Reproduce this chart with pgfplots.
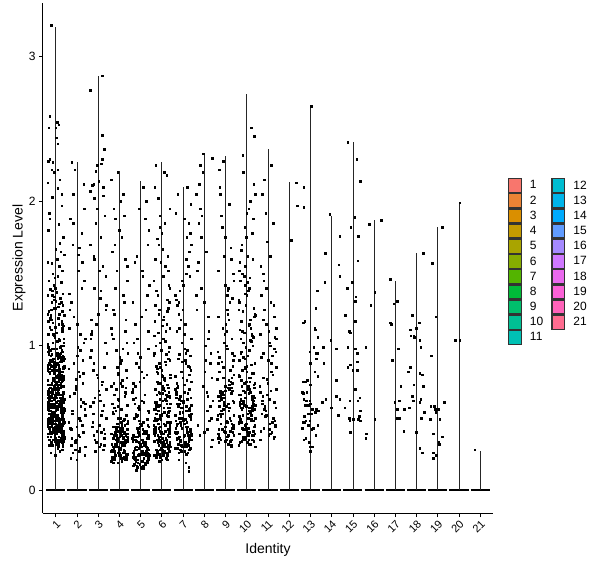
\documentclass[border=0pt]{standalone}
\usepackage{pgfplots}
\pgfplotsset{compat=1.18}
\usepackage{fontspec}
\setmainfont{Liberation Sans}
\definecolor{c1}{HTML}{F8766D}
\definecolor{c2}{HTML}{EB8335}
\definecolor{c3}{HTML}{DA8F00}
\definecolor{c4}{HTML}{C49A00}
\definecolor{c5}{HTML}{A9A400}
\definecolor{c6}{HTML}{86AC00}
\definecolor{c7}{HTML}{53B400}
\definecolor{c8}{HTML}{00BA38}
\definecolor{c9}{HTML}{00BE6C}
\definecolor{c10}{HTML}{00C094}
\definecolor{c11}{HTML}{00C1B4}
\definecolor{c12}{HTML}{00BDD1}
\definecolor{c13}{HTML}{00B5EB}
\definecolor{c14}{HTML}{00ABFD}
\definecolor{c15}{HTML}{619CFF}
\definecolor{c16}{HTML}{A58AFF}
\definecolor{c17}{HTML}{CF78FF}
\definecolor{c18}{HTML}{EA69EE}
\definecolor{c19}{HTML}{FB61D7}
\definecolor{c20}{HTML}{FF62B9}
\definecolor{c21}{HTML}{FF6C90}
\begin{document}
\begin{tikzpicture}
\path[use as bounding box] (-43bp,-55bp) rectangle (557bp,513bp);
\begin{axis}[
  scale only axis, width=450bp, height=510bp,
  xmin=0.4, xmax=21.6, ymin=-0.159, ymax=3.373,
  axis x line*=bottom, axis y line*=left,
  axis line style={-, line width=1bp, black},
  tick align=outside, major tick length=4bp,
  every tick/.style={black, line width=0.8bp},
  xtick={1,2,3,4,5,6,7,8,9,10,11,12,13,14,15,16,17,18,19,20,21},
  xticklabels={1,2,3,4,5,6,7,8,9,10,11,12,13,14,15,16,17,18,19,20,21},
  ytick={0,1,2,3}, yticklabels={0,1,2,3},
  /pgf/number format/assume math mode=true,
  x tick label style={rotate=45, anchor=north east, inner sep=1.5bp, font=\fontsize{11bp}{12bp}\selectfont},
  y tick label style={font=\fontsize{12bp}{14bp}\selectfont},
  xlabel={Identity}, ylabel={Expression Level},
  label style={font=\fontsize{14bp}{16bp}\selectfont},
  xlabel style={at={(axis description cs:0.5,0)}, anchor=base, yshift=-40bp},
  ylabel style={at={(axis description cs:0,0.5)}, anchor=center, yshift=24bp},
  unbounded coords=jump,
  legend columns=2,
  legend cell align=left,
  legend style={at={(axis description cs:1.0333,0.6569)}, anchor=north west,
    draw=none, fill=none, inner sep=0pt, outer sep=0pt, row sep=0pt, column sep=8bp,
    font=\fontsize{12bp}{14bp}\selectfont, nodes={inner sep=0pt}},
  legend image code/.code={\draw[#1, line width=1.3bp] (0.65bp,-6.95bp) rectangle (13.35bp,6.95bp);},
]
% violins (flat part at zero and thin upper tail)
\addplot[black, line width=2bp, forget plot] coordinates {(0.55,0)(1.45,0)(1.5,nan)(1.55,0)(2.45,0)(2.5,nan)(2.55,0)(3.45,0)(3.5,nan)(3.55,0)(4.45,0)(4.5,nan)(4.55,0)(5.45,0)(5.5,nan)(5.55,0)(6.45,0)(6.5,nan)(6.55,0)(7.45,0)(7.5,nan)(7.55,0)(8.45,0)(8.5,nan)(8.55,0)(9.45,0)(9.5,nan)(9.55,0)(10.45,0)(10.5,nan)(10.55,0)(11.45,0)(11.5,nan)(11.55,0)(12.45,0)(12.5,nan)(12.55,0)(13.45,0)(13.5,nan)(13.55,0)(14.45,0)(14.5,nan)(14.55,0)(15.45,0)(15.5,nan)(15.55,0)(16.45,0)(16.5,nan)(16.55,0)(17.45,0)(17.5,nan)(17.55,0)(18.45,0)(18.5,nan)(18.55,0)(19.45,0)(19.5,nan)(19.55,0)(20.45,0)(20.5,nan)(20.55,0)(21.45,0)};
\addplot[black!85, line width=0.75bp, forget plot] coordinates {(1,0)(1,3.21)(1,nan)(2,0)(2,2.27)(2,nan)(3,0)(3,2.87)(3,nan)(4,0)(4,2.21)(4,nan)(5,0)(5,2.14)(5,nan)(6,0)(6,2.27)(6,nan)(7,0)(7,2.10)(7,nan)(8,0)(8,2.33)(8,nan)(9,0)(9,2.31)(9,nan)(10,0)(10,2.74)(10,nan)(11,0)(11,2.36)(11,nan)(12,0)(12,2.13)(12,nan)(13,0)(13,2.66)(13,nan)(14,0)(14,1.90)(14,nan)(15,0)(15,2.41)(15,nan)(16,0)(16,1.87)(16,nan)(17,0)(17,1.45)(17,nan)(18,0)(18,1.64)(18,nan)(19,0)(19,1.82)(19,nan)(20,0)(20,1.99)(20,nan)(21,0)(21,0.27)};
% jittered cells
\addplot[only marks, mark=square*, mark size=0.8bp, mark options={fill=black, draw=black, line width=0.2bp}, forget plot] coordinates {
(0.69,.31)(1.17,.44)(0.95,.38)(1.36,.47)(0.78,.33)(1.08,.41)(1.29,.36)(0.62,.49)(1.12,.35)(0.86,.42)(1.33,.30)(0.73,.46)(1.02,.39)(1.21,.34)(0.91,.48)(1.39,.37)(0.66,.43)(1.14,.32)(0.81,.45)(1.26,.40)(0.98,.36)(1.31,.33)(0.75,.47)(1.05,.42)(1.37,.38)(0.84,.49)(1.10,.31)(0.64,.44)(1.23,.35)(0.93,.41)(1.34,.46)(0.71,.39)(1.00,.34)(1.18,.48)(0.88,.43)(1.28,.37)(0.61,.45)(1.06,.32)(0.79,.40)(1.15,.47)
(1.12,.58)(0.63,.66)(1.25,.49)(0.92,.72)(1.35,.61)(0.76,.55)(1.04,.78)(0.83,.64)(1.30,.52)(0.67,.70)(1.19,.59)(0.97,.75)(1.38,.47)(0.72,.68)(1.09,.62)(0.80,.57)(1.27,.80)(0.89,.53)(1.32,.65)(0.65,.73)(1.16,.60)(0.99,.50)(1.24,.77)(0.70,.63)(1.07,.56)(0.85,.69)(1.36,.54)(0.74,.71)(1.13,.67)(0.94,.48)(1.22,.74)(0.61,.59)(1.03,.79)(0.82,.51)(1.29,.64)(0.90,.76)(1.37,.57)(0.77,.62)(1.11,.70)(0.68,.55)
(1.33,.82)(0.73,.60)(1.02,.88)(1.21,.71)(0.91,.54)(1.39,.85)(0.66,.66)(1.14,.79)(0.81,.58)(1.26,.90)(0.98,.73)(1.31,.63)(0.75,.86)(1.05,.52)(1.37,.77)(0.84,.69)(1.10,.83)(0.64,.61)(1.23,.74)(0.93,.89)(1.34,.56)(0.71,.81)(1.00,.67)(1.18,.84)(0.88,.76)(1.28,.62)(0.61,.87)(1.06,.70)(0.79,.53)(1.15,.80)(0.69,.65)(1.17,.78)(0.95,.59)(1.36,.72)(0.78,.86)(1.08,.68)(1.29,.57)(0.62,.83)(1.12,.75)(0.86,.64)
(1.16,.42)(0.99,.57)(1.24,.36)(0.70,.63)(1.07,.48)(0.85,.69)(1.36,.39)(0.74,.55)(1.13,.66)(0.94,.44)(1.22,.61)(0.61,.37)(1.03,.52)(0.82,.68)(1.29,.46)(0.90,.58)(1.37,.40)(0.77,.65)(1.11,.50)(0.68,.35)(1.12,.62)(0.63,.47)(1.25,.54)(0.92,.70)(1.35,.41)(0.76,.59)(1.04,.45)(0.83,.67)(1.30,.38)(0.67,.53)(1.19,.64)(0.97,.43)(1.38,.56)(0.72,.49)(1.09,.66)(0.80,.39)(1.27,.60)(0.89,.51)(1.32,.45)(0.65,.68)
(1.08,.93)(1.29,1.12)(0.62,.85)(1.12,1.27)(0.86,1.02)(1.33,.96)(0.73,1.19)(1.02,.88)(1.21,1.33)(0.91,1.07)(1.39,.91)(0.66,1.24)(1.14,1.15)(0.81,.98)(1.26,1.30)(0.98,.83)(1.31,1.10)(0.75,1.21)(1.05,.95)(1.37,1.05)(0.84,1.35)(1.10,.87)(0.64,1.17)(1.23,1.00)(0.93,1.26)(1.34,.92)(0.71,1.13)(1.00,1.31)(1.18,.89)(0.88,1.08)(1.28,.97)(0.61,1.22)(1.06,1.03)(0.79,1.18)(1.15,.94)
(0.83,1.38)(1.30,1.52)(0.67,1.45)(1.19,1.71)(0.97,1.40)(1.38,1.63)(0.72,1.88)(1.09,1.48)(0.80,1.57)(1.27,1.97)(0.89,1.42)(1.32,1.36)(0.65,1.80)(1.16,1.55)(0.99,1.67)(1.24,1.44)(0.70,1.92)(1.07,1.60)(0.85,1.50)(1.36,1.75)(0.74,1.39)(1.13,1.84)(0.94,1.47)(1.22,1.65)(0.61,1.58)
(0.77,3.22)(0.72,2.59)(0.67,2.51)(0.99,2.51)(1.06,2.55)(1.14,2.53)(1.03,2.44)(1.08,2.40)(0.64,2.28)(0.72,2.29)(0.85,2.27)(0.80,2.22)(0.92,2.20)(1.09,2.22)(1.19,2.15)(0.61,2.13)(1.08,2.09)(1.27,2.05)(0.83,2.03)
(0.97,.24)(1.18,.27)(0.75,.26)(1.30,.28)
(0.97,.52)(1.27,.38)(0.64,.61)(1.14,.45)(0.80,.70)(1.33,.33)(0.89,.57)(1.05,.48)(0.71,.42)(1.22,.66)(0.84,.54)(1.38,.36)(0.93,.63)(1.30,.50)(0.76,.44)(1.09,.72)(0.67,.39)(1.19,.58)(0.99,.46)(1.35,.68)(0.86,.35)(1.25,.55)(0.62,.47)(1.03,.64)(0.74,.40)(1.16,.60)(0.91,.51)(1.31,.37)(0.81,.69)(1.11,.43)(0.65,.56)(1.24,.62)(0.96,.34)(1.37,.49)(0.78,.65)(1.07,.41)(0.70,.53)(1.20,.59)(0.87,.46)(1.34,.67)
(0.86,.78)(1.25,.92)(0.62,.85)(1.03,.74)(0.74,.97)(1.16,.81)(0.91,.88)(1.31,.76)(0.81,.94)(1.11,.83)(0.65,.99)(1.24,.79)(0.96,.86)(1.37,.90)(0.78,.73)(1.07,.95)(0.70,.82)(1.20,.77)(0.87,.91)(1.34,.84)(0.97,.87)(1.27,.75)(0.64,.96)(1.14,.80)(0.80,.89)(1.33,.93)(0.89,.78)(1.05,.98)(0.71,.84)(1.22,.72)(0.84,.90)(1.38,.86)(0.93,.81)(1.30,.76)(0.76,.93)(1.09,.88)(0.67,.97)(1.19,.83)(0.99,.79)(1.35,.85)
(0.84,.31)(1.38,.55)(0.93,.43)(1.30,.62)(0.76,.37)(1.09,.29)(0.67,.50)(1.19,.41)(0.99,.58)(1.35,.34)(0.86,.47)(1.25,.63)(0.62,.39)(1.03,.32)(0.74,.53)(1.16,.45)(0.91,.60)(1.31,.36)(0.81,.48)(1.11,.30)(0.65,.57)(1.24,.42)(0.96,.65)(1.37,.38)(0.78,.51)(1.07,.33)(0.70,.46)(1.20,.61)(0.87,.40)(1.34,.54)(0.97,.35)(1.27,.44)(0.64,.59)(1.14,.37)(0.80,.52)(1.33,.31)(0.89,.64)(1.05,.42)(0.71,.49)(1.22,.56)
(0.62,1.01)(1.12,.92)(0.86,1.16)(1.33,1.28)(0.73,.87)(1.02,1.09)(1.21,.99)(0.91,1.34)(1.39,1.21)(0.66,.94)(1.14,1.05)(0.81,1.30)(1.26,.89)(0.98,1.13)(1.31,1.24)(0.75,.97)(1.05,1.37)(1.37,1.02)(0.84,.86)(1.10,1.19)(0.64,1.08)(1.23,.95)(0.93,1.32)(1.34,1.14)(0.71,.90)(1.00,1.26)(1.18,1.04)(0.88,.98)(1.28,1.17)(0.61,1.35)(1.06,.93)(0.79,1.11)(1.15,1.22)(0.69,.88)(1.17,1.29)(0.95,1.06)(1.36,1.00)(0.78,1.25)(1.08,.91)(1.29,1.15)
(1.38,.63)(0.72,.81)(1.09,.52)(0.80,.74)(1.27,.58)(0.89,.84)(1.32,.47)(0.65,.69)(1.16,.77)(0.99,.55)(1.24,.82)(0.70,.49)(1.07,.71)(0.85,.60)(1.36,.79)(0.74,.53)(1.13,.85)(0.94,.66)(1.22,.45)(0.61,.76)(1.03,.61)(0.82,.83)(1.29,.50)(0.90,.72)(1.37,.67)(0.77,.57)(1.11,.80)(0.68,.48)(1.12,.73)(0.63,.64)
(2.36,.24)(1.78,.55)(2.08,.38)(2.29,.81)(1.62,1.12)(2.12,.29)(1.86,.67)(2.33,1.45)(1.73,.42)(2.02,.93)(2.21,1.78)(1.91,.33)(2.39,.60)(1.66,1.25)(2.14,.48)(1.81,2.05)(2.26,.74)(1.98,.21)(2.31,1.02)(1.75,.36)(2.05,1.63)(2.37,.52)(1.84,.88)(2.10,.27)(1.64,1.36)(2.23,.45)(1.93,.70)(2.34,1.95)(1.71,.31)(2.00,1.15)(2.18,.58)(1.88,2.22)(2.28,.40)(1.61,.84)(2.06,1.52)(1.79,.26)(2.15,.97)(1.69,1.88)(2.17,.63)(1.95,.35)
(1.97,.77)(2.38,.30)(1.72,1.30)(2.09,.50)(1.80,1.70)(2.27,.90)(1.89,.34)(2.32,2.12)(1.65,.65)(2.16,1.08)(1.99,.44)(2.24,1.58)(1.70,.22)(2.07,.82)(1.85,1.20)(2.36,.56)(1.74,2.27)(2.13,.37)(1.94,.72)(2.22,1.40)(1.61,.47)(2.03,.99)(1.82,1.85)(2.29,.61)(1.90,.28)(2.37,1.05)(1.77,.53)(2.11,1.68)(1.68,.43)(2.12,.79)
(3.18,2.87)(2.62,2.77)(3.18,2.46)(3.29,2.36)(3.18,2.29)(3.15,2.26)(2.95,2.25)(2.87,2.21)(3.01,2.14)(2.78,2.12)(2.71,2.11)(2.61,2.07)(3.24,2.10)(3.24,2.04)(2.81,2.02)
(2.84,.35)(3.10,.62)(2.64,1.05)(3.23,.28)(2.93,.80)(3.34,1.48)(2.71,.44)(3.00,1.22)(3.18,.55)(2.88,1.85)(3.28,.31)(2.61,.92)(3.06,.66)(2.79,1.62)(3.15,.40)(2.69,1.10)(3.17,.73)(2.95,1.95)(3.36,.50)(2.78,.38)(3.08,1.33)(3.29,.85)(2.62,.58)(3.12,1.75)(2.86,.27)(3.33,1.02)(2.73,.47)(3.02,.69)(3.21,1.55)(2.91,.33)(3.39,.95)(2.66,1.18)(3.14,.52)(2.81,1.40)(3.26,.42)(2.98,.78)(3.31,1.90)(2.75,.61)(3.05,.30)(3.37,1.28)
(2.78,.88)(3.03,.45)(2.82,1.60)(3.29,.36)(2.90,1.15)(3.37,.70)(2.77,.53)(3.11,1.38)(2.68,.97)(3.12,.32)(2.63,1.70)(3.25,.59)(2.92,.41)(3.35,1.25)(2.76,.83)(3.04,1.52)(2.83,.64)(3.30,.39)(2.67,1.08)(3.19,.75)
(4.02,.24)(4.21,.31)(3.91,.19)(4.39,.36)(3.66,.28)(4.14,.22)(3.81,.40)(4.26,.33)(3.98,.26)(4.31,.21)(3.75,.38)(4.05,.29)(4.37,.25)(3.84,.35)(4.10,.20)(3.64,.32)(4.23,.27)(3.93,.41)(4.34,.23)(3.71,.30)(4.00,.37)(4.18,.26)(3.88,.34)(4.28,.21)(3.61,.39)(4.06,.28)(3.79,.24)(4.15,.33)(3.69,.19)(4.17,.36)(3.95,.30)(4.36,.42)(3.78,.25)(4.08,.22)(4.29,.35)(3.62,.27)(4.12,.31)(3.86,.38)(4.33,.23)(3.73,.29)
(4.25,.45)(3.92,.58)(4.35,.37)(3.76,.66)(4.04,.50)(3.83,.42)(4.30,.71)(3.67,.54)(4.19,.39)(3.97,.62)(4.38,.47)(3.72,.74)(4.09,.56)(3.80,.44)(4.27,.68)(3.89,.36)(4.32,.52)(3.65,.60)(4.16,.48)(3.99,.41)(4.24,.65)(3.70,.53)(4.07,.38)(3.85,.70)(4.36,.46)(3.74,.57)(4.13,.43)(3.94,.63)(4.22,.49)(3.61,.72)(4.03,.40)(3.82,.55)(4.29,.67)(3.90,.44)(4.37,.59)
(4.34,.78)(3.71,1.05)(4.00,.92)(4.18,1.35)(3.88,.85)(4.28,1.60)(3.61,1.12)(4.06,.74)(3.79,1.88)(4.15,.98)(3.69,1.25)(4.17,2.05)(3.95,.81)(4.36,1.45)(3.78,1.70)(4.08,.90)(4.29,1.18)(3.62,2.15)(4.12,.76)(3.86,1.52)(4.33,1.02)(3.73,1.95)(4.02,.88)(4.21,1.30)(3.91,2.20)(4.39,.95)(3.66,1.65)(4.14,.72)(3.81,1.40)(4.26,1.10)(3.98,1.80)(4.31,.83)(3.75,1.22)(4.05,2.00)(4.37,1.55)(3.84,.97)(4.10,1.75)(3.64,1.08)(4.23,1.90)(3.93,.80)
(3.97,.27)(4.27,.34)(3.64,.22)(4.14,.41)(3.80,.30)(4.33,.25)(3.89,.46)(4.05,.29)(3.71,.36)(4.22,.23)(3.84,.32)(4.38,.48)(3.93,.26)(4.30,.38)(3.76,.21)(4.09,.33)(3.67,.44)(4.19,.28)(3.99,.24)(4.35,.39)(3.86,.31)(4.25,.35)(3.62,.20)(4.03,.43)(3.74,.27)(4.16,.37)(3.91,.50)(4.31,.25)(3.81,.32)(4.11,.45)(3.65,.23)(4.24,.40)(3.96,.29)(4.37,.34)(3.78,.22)(4.07,.47)(3.70,.30)(4.20,.26)(3.87,.36)(4.34,.42)
(5.14,.22)(4.81,.17)(5.26,.30)(4.98,.25)(5.31,.19)(4.75,.35)(5.05,.15)(5.37,.28)(4.84,.21)(5.10,.33)(4.64,.26)(5.23,.18)(4.93,.38)(5.34,.23)(4.71,.29)(5.00,.16)(5.18,.32)(4.88,.24)(5.28,.20)(4.61,.36)(5.06,.27)(4.79,.14)(5.15,.31)(4.69,.22)(5.17,.39)(4.95,.18)(5.36,.25)(4.78,.34)(5.08,.20)(5.29,.28)(4.62,.23)(5.12,.17)(4.86,.37)(5.33,.26)(4.73,.21)(5.02,.30)(5.21,.19)(4.91,.33)(5.39,.24)(4.66,.27)
(4.85,.42)(5.36,.55)(4.74,.37)(5.13,.61)(4.94,.48)(5.22,.40)(4.61,.68)(5.03,.45)(4.82,.52)(5.29,.36)(4.90,.58)(5.37,.44)(4.77,.64)(5.11,.39)(4.68,.50)(5.12,.47)(4.63,.70)(5.25,.41)(4.92,.56)(5.35,.38)(4.76,.53)(5.04,.62)(4.83,.43)(5.30,.49)(4.67,.35)(5.19,.66)(4.97,.46)(5.38,.54)(4.72,.60)(5.09,.42)(4.80,.51)(5.27,.39)(4.89,.57)(5.32,.45)(4.65,.63)
(4.95,.75)(5.36,1.10)(4.78,.88)(5.08,1.52)(5.29,.80)(4.62,1.30)(5.12,2.10)(4.86,.95)(5.33,1.70)(4.73,.72)(5.02,1.20)(5.21,1.88)(4.91,.85)(5.39,1.42)(4.66,1.02)(5.14,.78)(4.81,1.62)(5.26,2.00)(4.98,.92)(5.31,1.35)(4.75,1.15)(5.05,.82)(5.37,1.80)(4.84,1.05)(5.10,1.48)(4.64,.74)(5.23,1.25)(4.93,1.95)(5.34,.98)(4.71,1.58)
(4.86,.19)(5.25,.27)(4.62,.34)(5.03,.16)(4.74,.23)(5.16,.41)(4.91,.29)(5.31,.20)(4.81,.37)(5.11,.25)(4.65,.17)(5.24,.32)(4.96,.44)(5.37,.22)(4.78,.28)(5.07,.35)(4.70,.18)(5.20,.26)(4.87,.40)(5.34,.21)(4.97,.31)(5.27,.24)(4.64,.38)(5.14,.15)(4.80,.30)(5.33,.19)(4.89,.43)(5.05,.27)(4.71,.22)(5.22,.33)(4.84,.16)(5.38,.36)(4.93,.25)(5.30,.29)(4.76,.20)(5.09,.39)(4.67,.24)(5.19,.18)(4.99,.32)(5.35,.28)
(6.12,.32)(5.86,.25)(6.33,.41)(5.73,.28)(6.02,.36)(6.21,.22)(5.91,.44)(6.39,.30)(5.66,.38)(6.14,.26)(5.81,.34)(6.26,.21)(5.98,.40)(6.31,.29)(5.75,.35)(6.05,.24)(6.37,.43)(5.84,.31)(6.10,.27)(5.64,.39)(6.23,.33)(5.93,.23)(6.34,.37)(5.71,.42)(6.00,.28)(6.18,.35)(5.88,.20)(6.28,.31)(5.61,.45)(6.06,.26)(5.79,.38)(6.15,.30)(5.69,.24)(6.17,.36)(5.95,.33)(6.36,.41)(5.78,.27)(6.08,.39)(6.29,.29)(5.62,.34)
(5.76,.48)(6.04,.62)(5.83,.55)(6.30,.71)(5.67,.44)(6.19,.66)(5.97,.52)(6.38,.78)(5.72,.59)(6.09,.46)(5.80,.74)(6.27,.57)(5.89,.41)(6.32,.68)(5.65,.50)(6.16,.63)(5.99,.80)(6.24,.47)(5.70,.56)(6.07,.70)(5.85,.43)(6.36,.64)(5.74,.53)(6.13,.76)(5.94,.49)(6.22,.60)(5.61,.42)(6.03,.72)(5.82,.58)(6.29,.51)(5.90,.67)(6.37,.45)(5.77,.75)(6.11,.54)(5.68,.61)(6.12,.69)(5.63,.40)(6.25,.65)(5.92,.52)(6.35,.57)
(5.75,.82)(6.05,1.05)(6.37,.90)(5.84,1.22)(6.10,.77)(5.64,.95)(6.23,1.15)(5.93,.85)(6.34,1.30)(5.71,1.00)(6.00,.79)(6.18,1.10)(5.88,.88)(6.28,1.26)(5.61,.93)(6.06,1.18)(5.79,.81)(6.15,1.03)(5.69,1.28)(6.17,.87)(5.95,.97)(6.36,1.12)(5.78,.84)(6.08,1.20)(6.29,.91)(5.62,1.07)(6.12,.78)(5.86,1.25)(6.33,.99)(5.73,.86)(6.02,1.14)(6.21,.94)(5.91,1.02)(6.39,.80)(5.66,1.17)(6.14,.89)(5.81,1.09)(6.26,1.24)(5.98,.83)(6.31,.96)
(5.80,1.35)(6.27,1.62)(5.89,1.90)(6.32,1.42)(5.65,2.10)(6.16,1.55)(5.99,1.78)(6.24,1.32)(5.70,2.25)(6.07,1.48)(5.85,1.70)(6.36,1.95)(5.74,1.38)(6.13,1.85)(5.94,1.58)(6.22,2.18)(5.61,1.45)(6.03,1.67)(5.82,2.02)(6.29,1.52)(5.90,1.82)(6.37,1.40)(5.77,1.74)(6.11,2.20)(5.68,1.60)
(5.97,.29)(6.27,.38)(5.64,.24)(6.14,.45)(5.80,.33)(6.33,.27)(5.89,.50)(6.05,.31)(5.71,.40)(6.22,.22)(5.84,.36)(6.38,.47)(5.93,.28)(6.30,.42)(5.76,.25)(6.09,.34)(5.67,.43)(6.19,.30)(5.99,.21)(6.35,.39)(5.86,.35)(6.25,.26)(5.62,.48)(6.03,.32)(5.74,.23)(6.16,.41)(5.91,.37)(6.31,.28)(5.81,.46)(6.11,.30)(5.65,.44)(6.24,.24)(5.96,.39)(6.37,.33)(5.78,.49)(6.07,.27)(5.70,.42)(6.20,.35)(5.87,.25)(6.34,.31)
(6.33,.55)(5.89,.63)(6.05,.71)(5.71,.58)(6.22,.52)(5.84,.68)(6.38,.60)(5.93,.74)(6.30,.54)(5.76,.66)(6.09,.57)(5.67,.70)(6.19,.62)(5.99,.53)(6.35,.65)(5.86,.59)(6.25,.73)(5.62,.56)(6.03,.67)(5.74,.61)
(7.18,.32)(6.88,.45)(7.28,.28)(6.61,.52)(7.06,.38)(6.79,.26)(7.15,.58)(6.69,.35)(7.17,.42)(6.95,.30)(7.36,.49)(6.78,.36)(7.08,.27)(7.29,.55)(6.62,.40)(7.12,.33)(6.86,.47)(7.33,.29)(6.73,.60)(7.02,.37)(7.21,.44)(6.91,.31)(7.39,.53)(6.66,.39)(7.14,.25)(6.81,.50)(7.26,.34)(6.98,.57)(7.31,.41)(6.75,.29)(7.05,.46)(7.37,.35)(6.84,.54)(7.10,.31)(6.64,.43)(7.23,.38)(6.93,.27)(7.34,.51)(6.71,.36)(7.00,.48)
(6.90,.62)(7.37,.75)(6.77,.58)(7.11,.88)(6.68,.66)(7.12,.95)(6.63,.70)(7.25,.56)(6.92,.82)(7.35,.64)(6.76,.91)(7.04,.73)(6.83,.60)(7.30,.85)(6.67,.68)(7.19,.97)(6.97,.78)(7.38,.59)(6.72,.71)(7.09,.90)(6.80,.63)(7.27,.80)(6.89,.57)(7.32,.93)(6.65,.69)(7.16,.76)(6.99,.61)(7.24,.86)(6.70,.74)(7.07,.98)(6.85,.65)(7.36,.83)(6.74,.72)(7.13,.55)(6.94,.89)(7.22,.67)(6.61,.79)(7.03,.62)(6.82,.94)(7.29,.70)
(7.39,1.05)(6.66,1.32)(7.14,1.60)(6.81,1.12)(7.26,1.85)(6.98,1.25)(7.31,1.48)(6.75,2.05)(7.05,1.08)(7.37,1.70)(6.84,1.38)(7.10,1.15)(6.64,1.92)(7.23,1.55)(6.93,1.02)(7.34,1.78)(6.71,1.28)(7.00,1.42)(7.18,2.10)(6.88,1.18)(7.28,1.65)(6.61,1.35)(7.06,1.88)(6.79,1.22)(7.15,1.50)(6.69,1.10)(7.17,1.75)(6.95,1.45)(7.36,1.98)(6.78,1.30)
(7.26,.16)(7.26,.13)(6.78,.21)(7.12,.19)
(6.86,.34)(7.25,.52)(6.62,.29)(7.03,.61)(6.74,.40)(7.16,.47)(6.91,.27)(7.31,.56)(6.81,.37)(7.11,.44)(6.65,.66)(7.24,.31)(6.96,.50)(7.37,.39)(6.78,.58)(7.07,.33)(6.70,.45)(7.20,.63)(6.87,.28)(7.34,.42)(6.97,.54)(7.27,.36)(6.64,.48)(7.14,.30)(6.80,.60)(7.33,.41)(6.89,.35)(7.05,.68)(6.71,.46)(7.22,.26)(6.84,.53)(7.38,.38)(6.93,.43)(7.30,.57)(6.76,.32)(7.09,.49)(6.67,.64)(7.19,.40)(6.99,.30)(7.35,.51)
(7.69,.45)(8.17,1.20)(7.95,.72)(8.36,2.30)(7.78,.38)(8.08,1.65)(8.29,.95)(7.62,2.05)(8.12,.55)(7.86,1.40)(8.33,.30)(7.73,1.85)(8.02,.82)(8.21,1.10)(7.91,2.20)(8.39,.62)(7.66,1.52)(8.14,.42)(7.81,1.95)(8.26,.88)(7.98,1.30)(8.31,.50)(7.75,2.12)(8.05,1.00)(8.37,.35)(7.84,1.75)(8.10,.68)(7.64,1.25)(8.23,.48)(7.93,2.33)(8.34,.78)(7.71,1.58)(8.00,.40)(8.18,1.05)(7.88,1.90)(8.28,.58)(7.61,1.35)(8.06,.90)(7.79,2.25)(8.15,.65)
(9.12,.38)(8.63,.52)(9.25,.31)(8.92,.64)(9.35,.45)(8.76,.35)(9.04,.58)(8.83,.42)(9.30,.69)(8.67,.33)(9.19,.50)(8.97,.40)(9.38,.61)(8.72,.36)(9.09,.47)(8.80,.55)(9.27,.30)(8.89,.66)(9.32,.43)(8.65,.39)(9.16,.57)(8.99,.34)(9.24,.48)(8.70,.62)(9.07,.37)(8.85,.53)(9.36,.44)(8.74,.68)(9.13,.32)(8.94,.59)(9.22,.41)(8.61,.49)(9.03,.35)(8.82,.63)(9.29,.46)(8.90,.56)(9.37,.38)(8.77,.51)(9.11,.60)(8.68,.42)
(8.98,.72)(9.31,.95)(8.75,.65)(9.05,1.10)(9.37,.80)(8.84,.68)(9.10,1.22)(8.64,.88)(9.23,.75)(8.93,1.02)(9.34,.62)(8.71,.92)(9.00,1.15)(9.18,.70)(8.88,.85)(9.28,1.05)(8.61,.77)(9.06,.98)(8.79,.66)(9.15,1.18)(8.69,.82)(9.17,.73)(8.95,1.08)(9.36,.90)(8.78,.64)(9.08,1.25)(9.29,.78)(8.62,.96)(9.12,.71)(8.86,1.12)(9.33,.86)(8.73,.69)(9.02,1.00)(9.21,.83)(8.91,.61)(9.39,.93)(8.66,1.20)(9.14,.76)(8.81,.89)(9.26,.67)
(9.19,1.30)(8.97,1.75)(9.38,1.45)(8.72,2.10)(9.09,1.38)(8.80,1.90)(9.27,1.60)(8.89,2.28)(9.32,1.33)(8.65,1.52)(9.16,1.98)(8.99,1.42)(9.24,1.68)(8.70,2.22)(9.07,1.35)(8.85,1.82)(9.36,1.50)(8.74,2.05)(9.13,1.40)(8.94,1.62)
(8.97,.44)(9.27,.71)(8.64,.36)(9.14,.55)(8.80,.63)(9.33,.40)(8.89,.78)(9.05,.48)(8.71,.58)(9.22,.34)(8.84,.67)(9.38,.52)(8.93,.41)(9.30,.74)(8.76,.46)(9.09,.60)(8.67,.38)(9.19,.50)(8.99,.69)(9.35,.43)(8.86,.56)(9.25,.35)(8.62,.65)(9.03,.47)(8.74,.53)
(10.08,.35)(10.29,.48)(9.62,.31)(10.12,.57)(9.86,.42)(10.33,.38)(9.73,.62)(10.02,.33)(10.21,.52)(9.91,.45)(10.39,.30)(9.66,.59)(10.14,.40)(9.81,.36)(10.26,.55)(9.98,.43)(10.31,.65)(9.75,.34)(10.05,.50)(10.37,.39)(9.84,.61)(10.10,.32)(9.64,.47)(10.23,.56)(9.93,.37)(10.34,.44)(9.71,.63)(10.00,.41)(10.18,.53)(9.88,.35)(10.28,.58)(9.61,.46)(10.06,.38)(9.79,.60)(10.15,.32)(9.69,.49)(10.17,.54)(9.95,.36)(10.36,.64)(9.78,.43)
(10.16,.68)(9.99,.82)(10.24,.58)(9.70,.95)(10.07,.72)(9.85,.62)(10.36,.88)(9.74,.76)(10.13,.55)(9.94,.99)(10.22,.65)(9.61,.80)(10.03,.70)(9.82,.92)(10.29,.60)(9.90,.85)(10.37,.74)(9.77,.57)(10.11,.97)(9.68,.66)(10.12,.78)(9.63,.90)(10.25,.63)(9.92,.84)(10.35,.71)(9.76,.56)(10.04,.93)(9.83,.69)(10.30,.81)(9.67,.61)(10.19,.87)(9.97,.75)(10.38,.59)(9.72,.96)(10.09,.67)(9.80,.83)(10.27,.64)(9.89,.91)(10.32,.73)(9.65,.79)
(9.84,1.02)(10.10,1.15)(9.64,1.30)(10.23,1.08)(9.93,1.42)(10.34,1.20)(9.71,1.05)(10.00,1.35)(10.18,1.12)(9.88,1.48)(10.28,1.00)(9.61,1.25)(10.06,1.38)(9.79,1.10)(10.15,1.18)(9.69,1.45)(10.17,1.04)(9.95,1.28)(10.36,1.22)(9.78,1.50)(10.08,1.14)(10.29,1.06)(9.62,1.32)(10.12,1.40)(9.86,1.09)(10.33,1.26)(9.73,1.17)(10.02,1.44)(10.21,1.03)(9.91,1.36)(10.39,1.21)(9.66,1.11)(10.14,1.47)(9.81,1.24)(10.26,1.07)
(9.92,1.55)(10.35,2.45)(9.76,1.70)(10.04,1.62)(9.83,2.20)(10.30,1.88)(9.67,1.58)(10.19,2.51)(9.97,1.75)(10.38,2.05)(9.72,1.66)(10.09,1.95)(9.80,2.32)(10.27,1.60)(9.89,1.82)(10.32,2.12)(9.65,1.52)(10.16,2.00)(9.99,1.92)(10.24,1.78)
(9.97,.46)(10.27,.61)(9.64,.39)(10.14,.75)(9.80,.52)(10.33,.34)(9.89,.68)(10.05,.43)(9.71,.57)(10.22,.81)(9.84,.37)(10.38,.50)(9.93,.64)(10.30,.41)(9.76,.72)(10.09,.55)(9.67,.33)(10.19,.48)(9.99,.86)(10.35,.44)(9.86,.59)(10.25,.38)(9.62,.66)(10.03,.53)(9.74,.47)(10.16,.78)(9.91,.36)(10.31,.62)(9.81,.42)(10.11,.70)(9.65,.51)(10.24,.35)(9.96,.58)(10.37,.45)(9.78,.83)(10.07,.40)(9.70,.63)(10.20,.49)(9.87,.74)(10.34,.56)
(11.33,.45)(10.73,.62)(11.02,.38)(11.21,.80)(10.91,.52)(11.39,.70)(10.66,.41)(11.14,.88)(10.81,.56)(11.26,.36)(10.98,.74)(11.31,.48)(10.75,.65)(11.05,.42)(11.37,.85)(10.84,.58)(11.10,.39)(10.64,.68)(11.23,.50)(10.93,.77)(11.34,.44)(10.71,.60)(11.00,.90)(11.18,.47)(10.88,.55)(11.28,.37)(10.61,.72)(11.06,.63)(10.79,.43)(11.15,.82)(10.69,.53)(11.17,.40)(10.95,.66)(11.36,.57)(10.78,.78)(11.08,.46)(11.29,.61)(10.62,.35)(11.12,.69)(10.86,.51)
(10.78,.95)(11.03,1.10)(10.82,1.25)(11.29,.98)(10.90,1.40)(11.37,1.05)(10.77,1.18)(11.11,1.62)(10.68,.92)(11.12,1.30)(10.63,1.08)(11.25,1.85)(10.92,1.15)(11.35,.96)(10.76,1.50)(11.04,1.02)(10.83,2.15)(11.30,1.20)(10.67,1.35)(11.19,.93)(10.97,1.72)(11.38,1.12)(10.72,2.05)(11.09,1.00)(10.80,1.45)(11.27,1.28)(10.89,1.92)(11.32,1.06)(10.65,1.55)(11.16,2.25)
(12.33,2.13)(12.38,1.97)(12.10,1.73)(12.67,2.10)(12.67,1.96)
(13.02,2.66)(12.65,1.16)(12.73,1.17)(13.32,1.38)(13.25,1.26)(13.20,1.12)(13.23,1.11)(13.34,1.06)(13.15,.99)(13.59,.99)(12.96,.96)(13.25,.95)(13.33,.95)(12.99,.88)(13.28,.91)(13.62,.88)(13.33,.79)(13.20,.82)(12.65,.75)(12.76,.75)(12.84,.76)(12.99,.73)(12.62,.68)(12.66,.67)(12.82,.68)(12.68,.63)(12.80,.62)(12.96,.62)(12.99,.60)(12.76,.59)(12.88,.59)(13.56,.61)(13.72,.63)(13.09,.56)(13.26,.56)(13.37,.55)(13.04,.53)(13.23,.54)(12.71,.51)(12.88,.53)(12.65,.47)(12.73,.47)(12.78,.48)(12.96,.48)(12.88,.45)(13.06,.42)(13.12,.43)(12.62,.43)(13.25,.38)(13.34,.45)(12.68,.35)(12.78,.36)(12.95,.33)(13.07,.30)(12.99,.27)(12.96,.30)
(13.90,1.91)(13.70,1.64)(13.67,1.44)(13.95,1.04)(14.22,.98)(14.22,.76)(14.22,.65)(14.38,.63)(13.98,.57)(14.30,.52)(14.38,1.76)(14.33,1.56)(14.38,1.48)
(14.75,2.41)(15.18,2.29)(15.35,2.14)(15.08,1.89)(14.90,1.82)(15.25,1.76)(15.22,1.59)(14.97,1.44)(14.74,1.40)(15.13,1.34)(15.11,1.31)(14.64,1.21)(15.11,1.17)(14.82,1.10)(14.88,1.09)(14.75,.99)(15.11,.98)(15.60,.99)(15.21,.95)(15.21,.89)(14.88,.87)(14.75,.85)(14.99,.83)(15.21,.83)(15.10,.70)(14.85,.62)(14.61,.57)(15.22,.62)(15.32,.64)(15.35,.55)(14.82,.50)(15.00,.49)(14.85,.48)(15.25,.49)(15.35,.48)(15.30,.51)(14.88,.40)(15.62,.39)(15.60,.36)
(15.77,1.84)(16.34,1.87)(16.03,1.37)(15.84,1.28)(16.03,.49)
(16.76,1.46)(16.92,1.29)(17.09,1.31)(16.76,1.16)(16.81,1.15)(17.14,.98)(16.86,.90)(17.25,.72)(16.97,.61)(17.17,.62)(17.09,.56)(17.41,.56)(17.64,.57)(17.08,.50)(17.20,.50)(17.39,.41)
(18.32,1.64)(18.74,1.57)(17.80,1.21)(18.11,1.16)(17.70,1.11)(17.97,1.12)(17.72,1.07)(17.86,1.07)(17.88,1.06)(18.14,1.04)(18.18,.99)(17.70,.85)(17.61,.82)(18.14,.81)(18.27,.80)(18.30,.72)(17.86,.73)(17.80,.65)(17.83,.62)(18.18,.63)(18.14,.61)(18.36,.54)(17.97,.40)(18.22,.50)(18.14,.29)(18.27,.26)
(19.21,1.82)(18.90,1.20)(18.69,.93)(18.66,.58)(18.82,.58)(18.87,.56)(19.02,.56)(18.90,.54)(19.09,.49)(19.29,.61)(18.65,.49)(18.77,.39)(19.21,.37)(19.04,.33)(19.07,.32)(18.77,.26)(18.93,.24)(18.77,.22)
(20.03,1.99)(19.82,1.04)(20.03,1.04)
(20.73,.28)
};
% legend (row-major order so that the columns read 1-11 and 12-21)
\addlegendimage{fill=c1, draw=black!80}\addlegendentry{1}
\addlegendimage{fill=c12, draw=black!80}\addlegendentry{12}
\addlegendimage{fill=c2, draw=black!80}\addlegendentry{2}
\addlegendimage{fill=c13, draw=black!80}\addlegendentry{13}
\addlegendimage{fill=c3, draw=black!80}\addlegendentry{3}
\addlegendimage{fill=c14, draw=black!80}\addlegendentry{14}
\addlegendimage{fill=c4, draw=black!80}\addlegendentry{4}
\addlegendimage{fill=c15, draw=black!80}\addlegendentry{15}
\addlegendimage{fill=c5, draw=black!80}\addlegendentry{5}
\addlegendimage{fill=c16, draw=black!80}\addlegendentry{16}
\addlegendimage{fill=c6, draw=black!80}\addlegendentry{6}
\addlegendimage{fill=c17, draw=black!80}\addlegendentry{17}
\addlegendimage{fill=c7, draw=black!80}\addlegendentry{7}
\addlegendimage{fill=c18, draw=black!80}\addlegendentry{18}
\addlegendimage{fill=c8, draw=black!80}\addlegendentry{8}
\addlegendimage{fill=c19, draw=black!80}\addlegendentry{19}
\addlegendimage{fill=c9, draw=black!80}\addlegendentry{9}
\addlegendimage{fill=c20, draw=black!80}\addlegendentry{20}
\addlegendimage{fill=c10, draw=black!80}\addlegendentry{10}
\addlegendimage{fill=c21, draw=black!80}\addlegendentry{21}
\addlegendimage{fill=c11, draw=black!80}\addlegendentry{11}
\end{axis}
\end{tikzpicture}
\end{document}
